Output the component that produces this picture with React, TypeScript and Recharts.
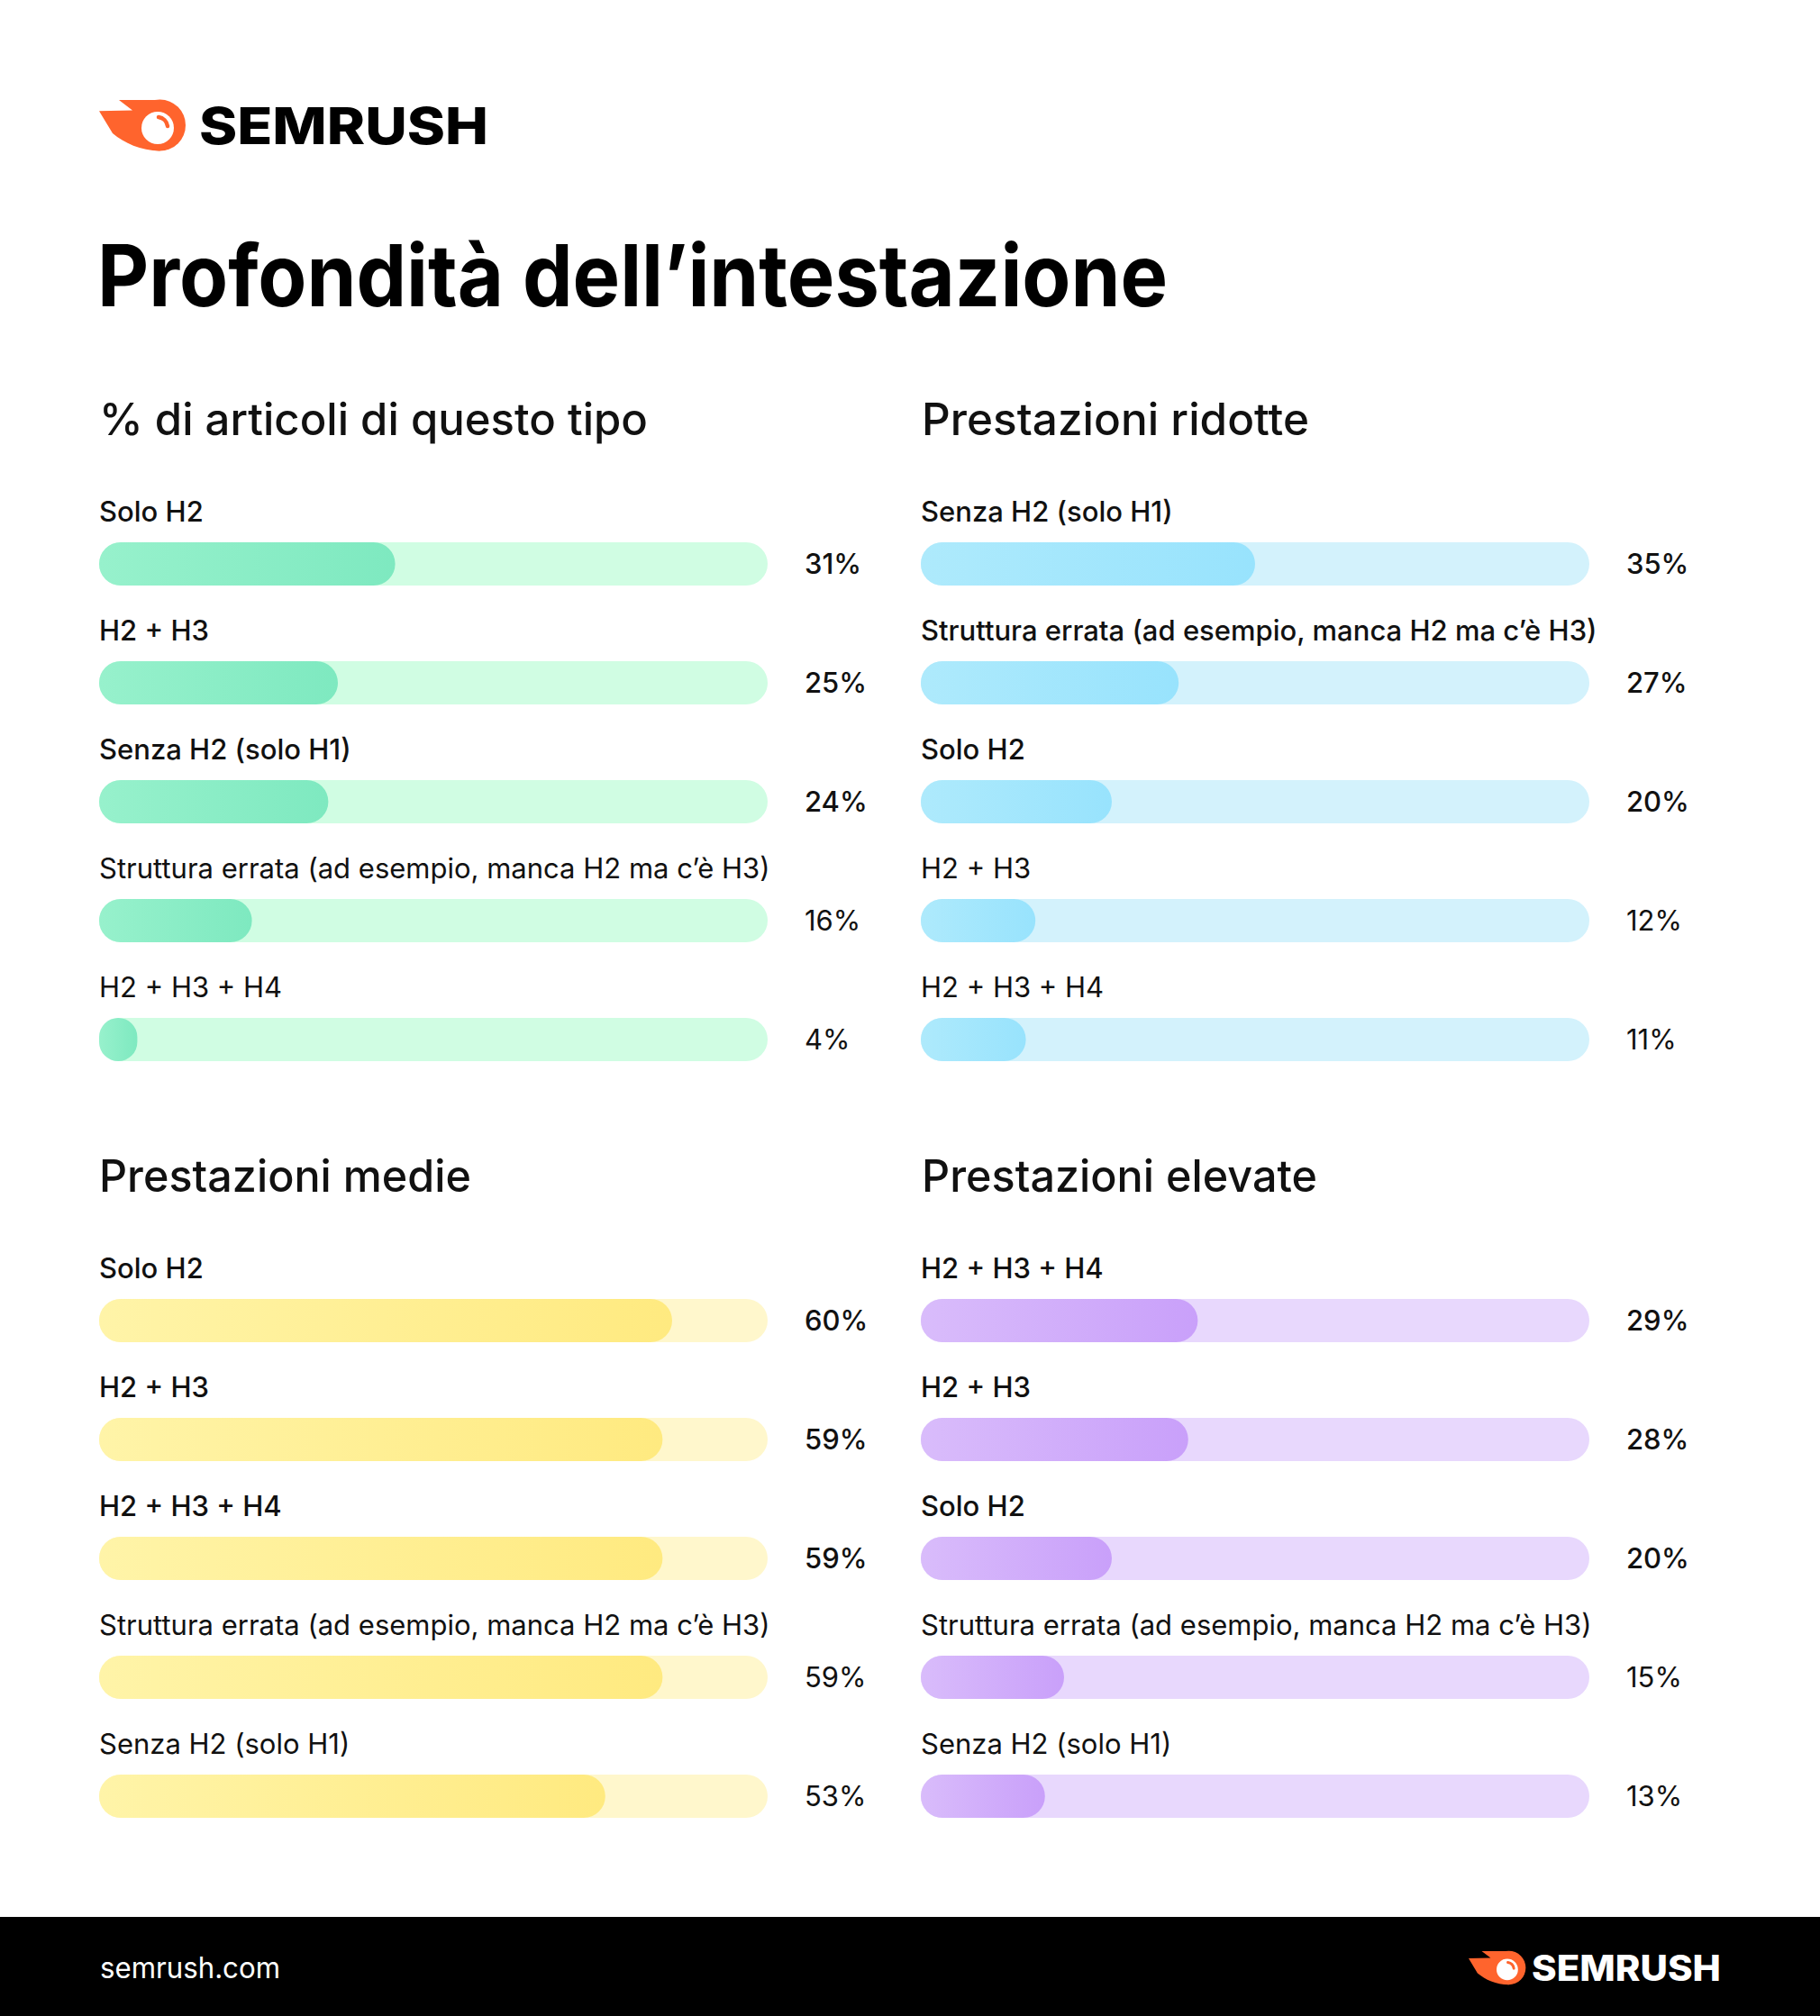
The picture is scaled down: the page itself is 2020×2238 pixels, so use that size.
import React from 'react';
import { BarChart, Bar, XAxis, YAxis, LabelList } from 'recharts';

const PAGE_TITLE = 'Profondità dell’intestazione';
const FOOTER_URL = 'semrush.com';
const BRAND = 'SEMRUSH';

const articoliTitle = '% di articoli di questo tipo';
const articoliLabels = ['Solo H2', 'H2 + H3', 'Senza H2 (solo H1)', 'Struttura errata (ad esempio, manca H2 ma c’è H3)', 'H2 + H3 + H4'];
const articoliValues = [31, 25, 24, 16, 4];

const ridotteTitle = 'Prestazioni ridotte';
const ridotteLabels = ['Senza H2 (solo H1)', 'Struttura errata (ad esempio, manca H2 ma c’è H3)', 'Solo H2', 'H2 + H3', 'H2 + H3 + H4'];
const ridotteValues = [35, 27, 20, 12, 11];

const medieTitle = 'Prestazioni medie';
const medieLabels = ['Solo H2', 'H2 + H3', 'H2 + H3 + H4', 'Struttura errata (ad esempio, manca H2 ma c’è H3)', 'Senza H2 (solo H1)'];
const medieValues = [60, 59, 59, 59, 53];

const elevateTitle = 'Prestazioni elevate';
const elevateLabels = ['H2 + H3 + H4', 'H2 + H3', 'Solo H2', 'Struttura errata (ad esempio, manca H2 ma c’è H3)', 'Senza H2 (solo H1)'];
const elevateValues = [29, 28, 20, 15, 13];

const DOMAIN_MAX = 70;
const FONT = 'Inter, "Noto Sans", sans-serif';
const PLOT_W = 742;
const CHART_W = 900;
const CHART_H = 700;
const ORANGE = '#FF642D';

type Panel = {
  id: string;
  title: string;
  labels: string[];
  values: number[];
  left: number;
  top: number;
  fillFrom: string;
  fillTo: string;
  track: string;
};

const panels: Panel[] = [
  { id: 'g', title: articoliTitle, labels: articoliLabels, values: articoliValues, left: 110, top: 540, fillFrom: '#97f1cc', fillTo: '#7ee9c0', track: '#d0fde3' },
  { id: 'b', title: ridotteTitle, labels: ridotteLabels, values: ridotteValues, left: 1022, top: 540, fillFrom: '#aeeafc', fillTo: '#98e3fd', track: '#d3f2fc' },
  { id: 'y', title: medieTitle, labels: medieLabels, values: medieValues, left: 110, top: 1380, fillFrom: '#fff4a8', fillTo: '#ffea80', track: '#fff7cc' },
  { id: 'p', title: elevateTitle, labels: elevateLabels, values: elevateValues, left: 1022, top: 1380, fillFrom: '#d9bcfb', fillTo: '#c9a0fa', track: '#e8d8fd' },
];

function Icon({ x, y, s }: { x: number; y: number; s: number }) {
  return (
    <g transform={`translate(${x},${y}) scale(${s})`}>
      <circle cx={67.5} cy={28} r={28.5} fill={ORANGE} />
      <path d="M22,0 L67.5,0 L67.5,56.5 C46,56 28,48 15,37 L0,12.3 L37,11.5 Z" fill={ORANGE} />
      <circle cx={65} cy={31} r={18} fill="#fff" />
      <path d="M66,19 A12,12 0 0 1 76,29" fill="none" stroke={ORANGE} strokeWidth={4.5} strokeLinecap="round" />
    </g>
  );
}

function PanelChart({ p }: { p: Panel }) {
  const data = p.labels.map((name, i) => ({ name, value: p.values[i] }));
  const gid = `grad-${p.id}`;
  const nameLabel = (props: any) => {
    const { x, y, height, value, index } = props;
    return (
      <text x={x} y={y + height / 2 - 47} fill="#111" fontFamily={FONT} fontSize={31} fontWeight={index < 3 ? 500 : 400}>
        {value}
      </text>
    );
  };
  const valueLabel = (props: any) => {
    const { x, y, height, value, index } = props;
    return (
      <text x={x + PLOT_W + 41} y={y + height / 2 + 11} fill="#111" fontFamily={FONT} fontSize={31} fontWeight={index < 3 ? 500 : 400}>
        {`${value}%`}
      </text>
    );
  };
  return (
    <div style={{ position: 'absolute', left: p.left, top: p.top }}>
      <BarChart
        width={CHART_W}
        height={CHART_H}
        data={data}
        layout="vertical"
        margin={{ top: 20, right: CHART_W - PLOT_W, bottom: 20, left: 0 }}
      >
        <defs>
          <linearGradient id={gid} x1="0" y1="0" x2="1" y2="0">
            <stop offset="0%" stopColor={p.fillFrom} />
            <stop offset="100%" stopColor={p.fillTo} />
          </linearGradient>
        </defs>
        <XAxis type="number" domain={[0, DOMAIN_MAX]} hide />
        <YAxis type="category" dataKey="name" hide />
        <Bar
          dataKey="value"
          barSize={48}
          radius={24}
          fill={`url(#${gid})`}
          background={{ fill: p.track, radius: 24 } as any}
          isAnimationActive={false}
        >
          <LabelList dataKey="name" content={nameLabel} />
          <LabelList dataKey="value" content={valueLabel} />
        </Bar>
      </BarChart>
    </div>
  );
}

export default function App() {
  return (
    <div style={{ position: 'absolute', left: 0, top: 0, width: 2020, height: 2238, background: '#fff', overflow: 'hidden' }}>
      <svg width={2020} height={2238} style={{ position: 'absolute', left: 0, top: 0 }}>
        <Icon x={110} y={111} s={1} />
        <text x={221} y={160} fontFamily={FONT} fontSize={57} fontWeight={800} fill="#000" textLength={321} lengthAdjust="spacingAndGlyphs">
          {BRAND}
        </text>
        <text x={108} y={340} fontFamily={FONT} fontSize={95} fontWeight={700} fill="#000" textLength={1188} lengthAdjust="spacingAndGlyphs">
          {PAGE_TITLE}
        </text>
        <text x={110} y={483} fontFamily={FONT} fontSize={49} fontWeight={500} fill="#111" textLength={609} lengthAdjust="spacingAndGlyphs">
          {articoliTitle}
        </text>
        <text x={1023} y={483} fontFamily={FONT} fontSize={49} fontWeight={500} fill="#111" textLength={430} lengthAdjust="spacingAndGlyphs">
          {ridotteTitle}
        </text>
        <text x={110} y={1323} fontFamily={FONT} fontSize={49} fontWeight={500} fill="#111" textLength={413} lengthAdjust="spacingAndGlyphs">
          {medieTitle}
        </text>
        <text x={1023} y={1323} fontFamily={FONT} fontSize={49} fontWeight={500} fill="#111" textLength={439} lengthAdjust="spacingAndGlyphs">
          {elevateTitle}
        </text>
        <rect x={0} y={2128} width={2020} height={110} fill="#000" />
        <text x={111} y={2196} fontFamily={FONT} fontSize={32} fontWeight={400} fill="#fff" textLength={200} lengthAdjust="spacingAndGlyphs">
          {FOOTER_URL}
        </text>
        <Icon x={1630} y={2166} s={0.66} />
        <text x={1700} y={2199} fontFamily={FONT} fontSize={39} fontWeight={800} fill="#fff" textLength={210} lengthAdjust="spacingAndGlyphs">
          {BRAND}
        </text>
      </svg>
      {panels.map((p) => (
        <PanelChart key={p.id} p={p} />
      ))}
    </div>
  );
}
